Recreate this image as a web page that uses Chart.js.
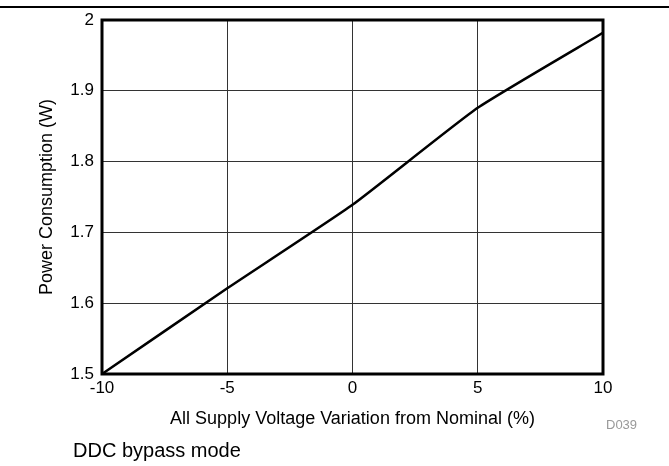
<!DOCTYPE html>
<html>
<head>
<meta charset="utf-8">
<script src="https://cdn.jsdelivr.net/npm/chart.js@4.4.0/dist/chart.umd.min.js"></script>
<style>
  html, body { margin: 0; padding: 0; background: #fff; }
  #wrap { position: relative; width: 669px; height: 466px; overflow: hidden; }
  #rule { position: absolute; left: 0; top: 6px; width: 669px; height: 2px; background: #000; }
  #chart { position: absolute; left: 0; top: 0; }
  .note { position: absolute; font-family: "Liberation Sans", Arial, sans-serif; white-space: nowrap; }
  #mode { left: 73px; top: 439px; font-size: 20px; color: #000; }
  #code { left: 606px; top: 417px; font-size: 13px; color: #999; }
</style>
</head>
<body>
<div id="wrap">
  <div id="rule"></div>
  <canvas id="chart" width="669" height="466"></canvas>
  <div class="note" id="code">D039</div>
  <div class="note" id="mode">DDC bypass mode</div>
</div>
<script>
// variation de tension d'alimentation (%) et consommation (W)
const voltageVariation = [-10, -5, 0, 5, 10];
const powerConsumption = [1.5, 1.621, 1.739, 1.876, 1.982];
const xTicks = [-10, -5, 0, 5, 10];
const yTicks = [1.5, 1.6, 1.7, 1.8, 1.9, 2];

const FONT = '"Liberation Sans", Arial, sans-serif';

// cadre épais autour de la zone de tracé
const framePlugin = {
    id: 'frame',
    afterDatasetsDraw(chart) {
        const a = chart.chartArea;
        const ctx = chart.ctx;
        ctx.save();
        ctx.strokeStyle = '#000';
        ctx.lineWidth = 3;
        ctx.strokeRect(a.left, a.top, a.right - a.left, a.bottom - a.top);
        ctx.restore();
    }
};

const points = voltageVariation.map(function (v, i) {
    return { x: v, y: powerConsumption[i] };
});

new Chart(document.getElementById('chart'), {
    type: 'line',
    data: {
        datasets: [{
            data: points,
            borderColor: '#000',
            borderWidth: 2.5,
            pointRadius: 0,
            tension: 0.15,
            fill: false,
            clip: false
        }]
    },
    options: {
        responsive: false,
        animation: false,
        layout: { padding: { left: 0, right: 66, top: 20, bottom: 26 } },
        plugins: {
            legend: { display: false },
            tooltip: { enabled: false }
        },
        scales: {
            x: {
                type: 'linear',
                min: -10,
                max: 10,
                afterBuildTicks(scale) { scale.ticks = xTicks.map(function (v) { return { value: v }; }); },
                afterFit(scale) { scale.height = 66; },
                grid: { color: '#333', lineWidth: 1, drawTicks: false },
                border: { display: false },
                ticks: { color: '#000', padding: 4, font: { family: FONT, size: 17 } },
                title: {
                    display: true,
                    text: 'All Supply Voltage Variation from Nominal (%)',
                    color: '#000',
                    font: { family: FONT, size: 18 },
                    padding: { top: 0, bottom: 10 }
                }
            },
            y: {
                min: 1.5,
                max: 2,
                afterBuildTicks(scale) { scale.ticks = yTicks.map(function (v) { return { value: v }; }); },
                afterFit(scale) { scale.width = 102; },
                grid: { color: '#333', lineWidth: 1, drawTicks: false },
                border: { display: false },
                ticks: {
                    color: '#000',
                    padding: 8,
                    font: { family: FONT, size: 17 },
                    callback: function (v) { return String(v); }
                },
                title: {
                    display: true,
                    text: 'Power Consumption (W)',
                    color: '#000',
                    font: { family: FONT, size: 18 },
                    padding: { top: 36, bottom: 0 }
                }
            }
        }
    },
    plugins: [framePlugin]
});
</script>
</body>
</html>
